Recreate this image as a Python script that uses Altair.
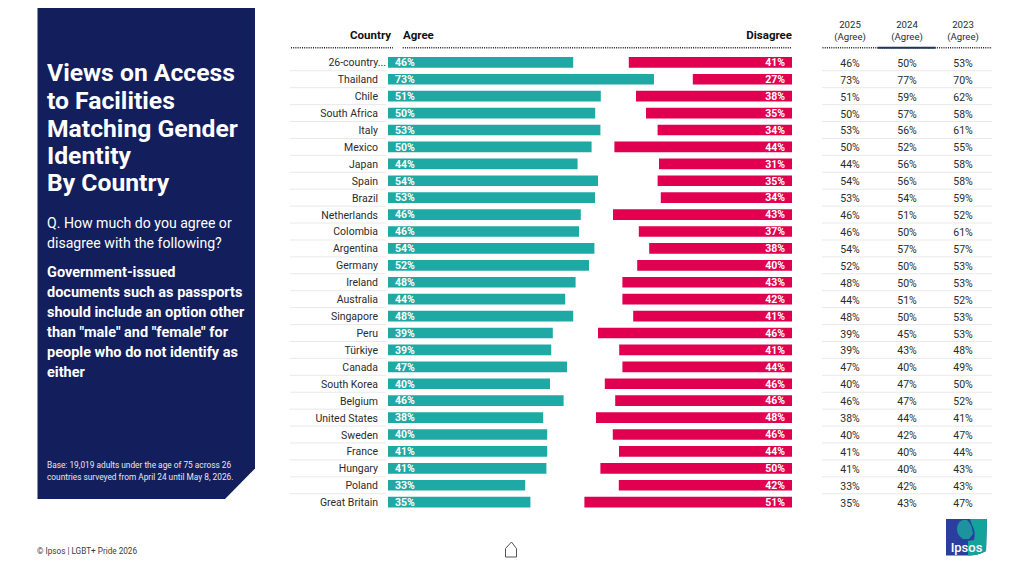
import altair as alt
import pandas as pd

countries = ["26-country...", "Thailand", "Chile", "South Africa", "Italy", "Mexico", "Japan", "Spain", "Brazil",
             "Netherlands", "Colombia", "Argentina", "Germany", "Ireland", "Australia", "Singapore", "Peru",
             "Türkiye", "Canada", "South Korea", "Belgium", "United States", "Sweden", "France", "Hungary",
             "Poland", "Great Britain"]
agree_pct = [46, 73, 51, 50, 53, 50, 44, 54, 53, 46, 46, 54, 52, 48, 44, 48, 39, 39, 47, 40, 46, 38, 40, 41, 41, 33, 35]
disagree_pct = [41, 27, 38, 35, 34, 44, 31, 35, 34, 43, 37, 38, 40, 43, 42, 41, 46, 41, 44, 46, 46, 48, 46, 44, 50, 42, 51]
# drawn bar lengths (they differ from the printed labels)
agree_bar = [46.3, 66.5, 53.2, 51.8, 53.1, 50.9, 47.4, 52.5, 51.75, 48.2, 47.75, 51.6, 50.25, 46.9, 44.3, 46.3, 41.2,
             40.8, 44.75, 40.5, 43.9, 38.8, 39.8, 39.8, 39.6, 34.3, 35.6]
disagree_bar = [40.8, 24.8, 39, 36.5, 33.6, 44.4, 33.25, 33.6, 32.8, 44.75, 38.3, 35.7, 38.7, 42.4, 42.4, 39.7, 48.5,
                43.2, 42.4, 46.8, 44.2, 49, 44.8, 43.25, 47.9, 43.3, 51.9]
y2024 = [50, 77, 59, 57, 56, 52, 56, 56, 54, 51, 50, 57, 50, 50, 51, 50, 45, 43, 40, 47, 47, 44, 42, 40, 40, 42, 43]
y2023 = [53, 70, 62, 58, 61, 55, 58, 58, 59, 52, 61, 57, 53, 53, 52, 53, 53, 48, 49, 50, 52, 41, 47, 44, 43, 43, 47]

title_lines = ["Views on Access", "to Facilities", "Matching Gender", "Identity", "By Country"]
question_lines = ["Q. How much do you agree or", "disagree with the following?"]
statement_lines = ["Government-issued", "documents such as passports", "should include an option other",
                   'than "male" and "female" for', "people who do not identify as", "either"]
base_lines = ["Base: 19,019 adults  under the age of 75 across 26", "countries surveyed from April 24 until May 8, 2026."]

FONT = "Roboto"
TEAL, RED, NAVY = "#1fa9a5", "#e0004f", "#131e5c"
INK = "#2b2b2b"

df = pd.DataFrame({
    "country": countries,
    "a0": [0] * 27, "a1": agree_bar,
    "d0": [101 - v for v in disagree_bar], "d1": [101] * 27,
    "a_label": [f"{v}%" for v in agree_pct],
    "d_label": [f"{v}%" for v in disagree_pct],
    "y2025": [f"{v}%" for v in agree_pct],
    "y2024": [f"{v}%" for v in y2024],
    "y2023": [f"{v}%" for v in y2023],
})

xs = alt.Scale(domain=[-95, 157], range=[0, 1008])
ys = alt.Scale(domain=countries, range=[45.84, 502.66], paddingInner=0.37, paddingOuter=0.185)
Y = alt.Y("country:N", scale=ys, axis=None, sort=None)
one = alt.Data(values=[{"k": 1}])


def px(v):
    return alt.value(v - 8)


def txt(s, x, y, size, color="white", weight="normal", align="left"):
    return alt.Chart(one).mark_text(text=s, font=FONT, fontSize=size, color=color, fontWeight=weight,
                                    align=align, baseline="alphabetic").encode(x=px(x), y=px(y))


def shape(path, x, y, **kw):
    return alt.Chart(one).mark_point(shape=path, size=4, opacity=1, **kw).encode(x=px(x), y=px(y))


def hline(x0, x1, y, color, width, dash=None):
    kw = {"strokeDash": dash} if dash else {}
    return alt.Chart(one).mark_rule(color=color, strokeWidth=width, **kw).encode(
        x=px(x0), x2=px(x1), y=px(y))


layers = []
# left panel
layers.append(shape("M0,0L217.5,0L217.5,468.5L187.5,499L0,499Z", 37.5, 0, filled=True, fill=NAVY, strokeWidth=0))
for s, yy in zip(title_lines, [81, 109, 136.7, 163.5, 191]):
    layers.append(txt(s, 47, yy, 24.7, weight=700))
for s, yy in zip(question_lines, [227.7, 248]):
    layers.append(txt(s, 47, yy, 14.1))
for s, yy in zip(statement_lines, [276.7, 296.7, 316.7, 337, 357, 377]):
    layers.append(txt(s, 47, yy, 14.5, weight=700))
for s, yy in zip(base_lines, [468, 480]):
    layers.append(txt(s, 47, yy, 8.3, color="#e6e8f0"))

# separators
for x0, x1 in [(290, 386), (822, 992)]:
    layers.append(alt.Chart(df).transform_filter(alt.datum.country != countries[-1]).mark_rule(
        color="#e9e9e9", strokeWidth=1, yOffset=8.46).encode(y=Y, x=px(x0), x2=px(x1)))

# header rules
layers.append(hline(291, 393, 47.7, "#222222", 1.4, [1, 1.2]))
layers.append(hline(402.7, 792, 47.7, "#222222", 1.4, [1, 1.2]))
layers.append(hline(822.5, 992, 47.7, "#222222", 1.4, [1, 1.2]))
layers.append(hline(877.5, 935.5, 47.7, "#22365a", 2))

# headers
layers.append(txt("Country", 391, 39, 11.5, color="#111111", weight=700, align="right"))
layers.append(txt("Agree", 403, 39, 11.5, color="#111111", weight=700))
layers.append(txt("Disagree", 792, 39, 11.5, color="#111111", weight=700, align="right"))
for yr, cx in [("2025", 850), ("2024", 907), ("2023", 963)]:
    layers.append(txt(yr, cx, 28, 9.6, color=INK, align="center"))
    layers.append(txt("(Agree)", cx, 40, 9.6, color=INK, align="center"))

# bars
layers.append(alt.Chart(df).mark_bar(color=TEAL).encode(
    y=Y, x=alt.X("a0:Q", scale=xs, axis=None), x2="a1:Q"))
layers.append(alt.Chart(df).mark_bar(color=RED).encode(
    y=Y, x=alt.X("d0:Q", scale=xs, axis=None), x2="d1:Q"))

# bar labels
layers.append(alt.Chart(df).mark_text(font=FONT, fontSize=10.5, fontWeight=700, color="white", align="left", dy=0.8).encode(
    y=Y, x=px(395), text="a_label:N"))
layers.append(alt.Chart(df).mark_text(font=FONT, fontSize=10.5, fontWeight=700, color="white", align="right", dy=0.8).encode(
    y=Y, x=px(785), text="d_label:N"))

# country labels
layers.append(alt.Chart(df).transform_filter(alt.datum.country != countries[0]).mark_text(
    font=FONT, fontSize=10.5, color=INK, align="right", dy=1).encode(y=Y, x=px(378), text="country:N"))
layers.append(alt.Chart(df).transform_filter(alt.datum.country == countries[0]).mark_text(
    font=FONT, fontSize=10.5, color=INK, align="right", dy=1).encode(y=Y, x=px(386), text="country:N"))

# table columns
for col, cx in [("y2025", 850), ("y2024", 907), ("y2023", 963)]:
    layers.append(alt.Chart(df).mark_text(font=FONT, fontSize=10.5, color=INK, align="center", dy=1.5).encode(
        y=Y, x=px(cx), text=f"{col}:N"))

# footer
layers.append(txt("© Ipsos | LGBT+ Pride 2026", 37, 554, 8.2, color="#3c3c3c"))

# home icon
layers.append(shape("M0,6.5L6,0L11,6.5L11,15L0,15Z", 505.5, 542, filled=False, stroke="#555555", strokeWidth=1))

# logo
layers.append(shape("M0,0L41,0L40,32Q32,36.5 22,36.5L0,36.5Z", 946, 519, filled=True, fill="#2a3f9d", strokeWidth=0))
layers.append(shape("M24,0L41,0L40,32Q32,36.5 22,36.5L22,22L28,21Q30,12 26,6Z", 946, 519, filled=True, fill="#14a39a", strokeWidth=0))
layers.append(shape("M17,1Q11,3 11,10Q11,16 17,20L23,20L27,15Q26,5 21,1Z", 946, 519, filled=True, fill="#1d93a0", strokeWidth=0))
layers.append(txt("Ipsos", 966.5, 552, 13, weight=500, align="center"))

chart = alt.layer(*layers).properties(
    width=1008, height=560, padding=0, autosize=alt.AutoSizeParams(type="none", contains="padding"),
    background="white",
).configure_view(stroke=None)

chart.save("out.html", embed_options={"renderer": "svg", "actions": False})
